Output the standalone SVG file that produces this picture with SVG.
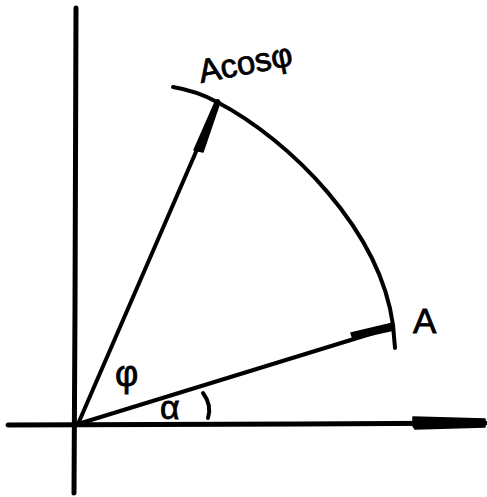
<svg xmlns="http://www.w3.org/2000/svg" width="487" height="497" viewBox="0 0 487 497">
<style>
.ln{fill:none;stroke:#000;stroke-linecap:round;stroke-linejoin:round}
.ax{stroke-width:5}
.vec{stroke-width:4}
.fill{fill:#000;stroke:#000;stroke-width:1.5;stroke-linejoin:round}
.lbl{font-family:"Liberation Sans","DejaVu Sans",sans-serif;fill:#000;stroke:#000;stroke-width:0.8}
</style>
<rect width="487" height="497" fill="#fff"/>
<g id="axes">
<path class="ln ax" d="M76,8 L75,310 L74,493"/>
<path class="ln ax" d="M8,425 L300,424 L485,423"/>
<polygon class="fill" points="413,417 485,419 485,427 415,429 413,426"/>
</g>
<g id="connectors">
<path id="vec-acos" class="ln vec" d="M78,424 L218,101"/>
<polygon class="fill" points="194,150 203,152 220,102 216,100"/>
<path id="vec-a" class="ln vec" d="M78,424 L393,327"/>
<polygon class="fill" points="351,333 393,323 394,330 353,339"/>
<path id="arc" class="ln vec" d="M173,87 Q197,91 217,102 C290,140 380,230 393,325 L395,348"/>
<path id="alpha-arc" class="ln vec" d="M203,393 Q212,405 208,418"/>
</g>
<g id="label-A"><text class="lbl" x="413" y="333" font-size="35">A</text></g>
<g id="label-Acos"><text class="lbl" x="201" y="83" font-size="33" transform="rotate(-11 201 83)">Acosφ</text></g>
<g id="label-phi"><text class="lbl" x="115" y="386" font-size="36">φ</text></g>
<g id="label-alpha"><text class="lbl" x="160" y="419" font-size="34">α</text></g>
</svg>
